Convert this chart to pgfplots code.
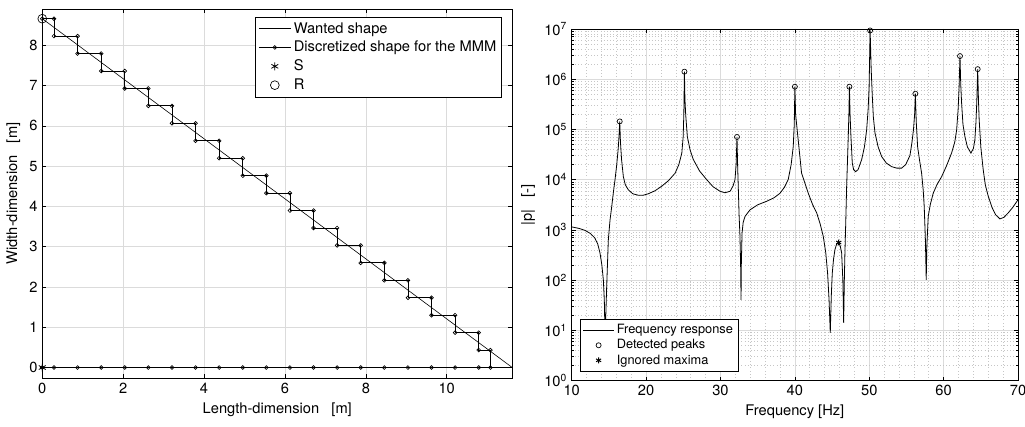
\documentclass[border=0pt]{standalone}
\usepackage{fontspec}
\setmainfont{TeX Gyre Heros}
\usepackage{pgfplots}
\pgfplotsset{compat=1.18}
\usepackage{pgfplotstable}

% frequency response |p|
\pgfplotstableread{
f p
10.00 1150
11.00 1070
11.80 977
12.50 851
13.10 692
13.50 525
13.80 347
14.05 200
14.25 102
14.38 39.8
14.45 12.6
14.50 7.94
14.58 20.0
14.70 75.9
14.92 631
15.15 1585
15.38 2951
15.60 5623
15.82 10000
16.05 19950
16.25 41690
16.37 79430
16.45 144500
16.55 56230
16.70 25120
16.94 11480
17.20 7943
17.60 6310
18.20 5248
18.95 4898
19.60 4898
20.30 5248
21.20 6026
22.10 7413
23.00 9550
23.90 13490
24.40 19950
24.80 33880
24.98 70790
25.07 199500
25.15 1413000
25.22 398100
25.32 199500
25.54 72440
25.90 39810
26.35 25120
27.20 14790
28.15 10000
29.00 7244
29.93 5888
30.60 5495
31.30 5888
31.70 7586
31.95 10000
32.10 19950
32.22 70790
32.30 19950
32.39 7244
32.50 1995
32.62 741
32.72 158
32.76 40.7
32.80 200
32.90 871
33.05 1413
33.30 1862
33.97 2512
35.00 3162
36.20 3715
37.20 4365
38.00 5370
38.60 7079
39.10 10000
39.50 19950
39.78 45710
39.92 125900
40.00 707900
40.10 199500
40.40 72440
40.90 13490
41.80 5370
42.40 3162
42.93 2188
43.40 1318
43.82 741
44.15 355
44.40 138
44.60 39.8
44.76 8.91
44.90 50.1
45.03 138
45.20 263
45.39 407
45.60 513
45.89 562
46.10 479
46.29 347
46.45 100
46.56 14.1
46.65 100
46.73 347
46.85 1585
46.96 7244
47.08 25120
47.18 72440
47.27 223900
47.33 707900
47.42 199500
47.54 72440
47.72 21380
47.90 15850
48.17 14450
48.50 15850
48.98 25120
49.35 44670
49.65 97720
49.85 251200
49.98 707900
50.12 9333000
50.26 1585000
50.40 501200
50.55 177800
50.77 85110
51.20 44670
51.67 28840
52.30 21380
53.00 18200
53.70 16980
54.35 16980
54.90 19950
55.47 30200
55.75 56230
55.95 100000
56.10 199500
56.20 512900
56.32 141300
56.50 45710
56.75 25120
57.04 13490
57.25 6310
57.39 2951
57.55 631
57.66 102
57.75 501
57.93 1862
58.20 3162
58.60 5370
59.10 7943
59.73 11480
60.40 19050
61.07 33880
61.50 56230
61.75 97720
61.95 251200
62.08 707900
62.20 2884000
62.30 794300
62.42 331100
62.60 125900
62.86 72440
63.20 44670
63.67 33880
64.00 41690
64.20 61660
64.35 141300
64.46 354800
64.58 1585000
64.68 398100
64.78 154900
65.00 44670
65.32 15850
65.60 7943
66.00 4677
66.50 2818
67.00 1995
67.57 1660
68.10 1778
68.69 2188
69.30 2818
70.00 3981
}\freqresp

\pgfplotstableread{
f p
16.45 144500
25.15 1413000
32.22 70790
40.00 707900
47.33 707900
50.12 9333000
56.20 512900
62.20 2884000
64.58 1585000
}\peaks

\pgfplotsset{
  matlab/.style={
    scale only axis,
    font=\fontsize{11}{13}\selectfont,
    tick label style={font=\fontsize{11}{13}\selectfont},
    /pgf/number format/assume math mode=true,
    axis line style={black,line width=0.5pt},
    tick align=inside,
    major tick length=3pt,
    minor tick length=1.8pt,
    every tick/.style={black,line width=0.4pt},
    major grid style={gray!28,line width=0.4pt},
    legend cell align=left,
    legend image code/.code={\draw[mark repeat=2,mark phase=2,##1]
      plot coordinates {(0cm,0cm) (0.42cm,0cm) (0.84cm,0cm)};},
    legend style={draw=black,line width=0.5pt,fill=white,
      font=\fontsize{11}{13}\selectfont,inner sep=2pt,row sep=0.5pt},
  },
}

\begin{document}
\begin{tikzpicture}
\path[use as bounding box] (0,0) rectangle (768.75pt,-319.5pt);

\begin{axis}[matlab,
  at={(31.7pt,-283.5pt)},anchor=south west,
  width=352.5pt,height=276.75pt,
  xmin=0,xmax=11.62,ymin=-0.26,ymax=8.9,
  xtick={0,2,...,10},ytick={0,1,...,8},
  xmajorgrids,ymajorgrids,
  xlabel={Length-dimension\ \ \ [m]},
  ylabel={Width-dimension\ \ \ [m]},
  legend style={at={(0.978,0.979)},anchor=north east},
]
\addplot[black,line width=0.45pt] coordinates {(0,0) (11.62,0) (0,8.66) (0,0)};
\addlegendentry{Wanted shape}
\addplot[black,line width=0.6pt,mark=o,mark size=1.4pt,mark options={line width=0.5pt}] coordinates {
(0,8.66) (0.29,8.66) (0.29,8.227) (0.873,8.227) (0.873,7.794) (1.457,7.794)
(1.457,7.361) (2.04,7.361) (2.04,6.928) (2.623,6.928) (2.623,6.495) (3.207,6.495)
(3.207,6.062) (3.79,6.062) (3.79,5.629) (4.373,5.629) (4.373,5.196) (4.957,5.196)
(4.957,4.763) (5.54,4.763) (5.54,4.33) (6.123,4.33) (6.123,3.897) (6.707,3.897)
(6.707,3.464) (7.29,3.464) (7.29,3.031) (7.873,3.031) (7.873,2.598) (8.457,2.598)
(8.457,2.165) (9.04,2.165) (9.04,1.732) (9.623,1.732) (9.623,1.299) (10.207,1.299)
(10.207,0.866) (10.79,0.866) (10.79,0.433) (11.08,0.433) (11.08,0)
(10.79,0) (10.207,0) (9.623,0) (9.04,0) (8.457,0) (7.873,0) (7.29,0) (6.707,0)
(6.123,0) (5.54,0) (4.957,0) (4.373,0) (3.79,0) (3.207,0) (2.623,0) (2.04,0)
(1.457,0) (0.873,0) (0.29,0) (0,0)};
\addlegendentry{Discretized shape for the MMM}
\addplot[only marks,black,mark=asterisk,mark size=3pt,mark options={line width=0.6pt}] coordinates {(0,0)};
\addlegendentry{S}
\addplot[only marks,black,mark=o,mark size=3.3pt,mark options={line width=0.5pt}] coordinates {(0,8.66)};
\addlegendentry{R}
\end{axis}

\begin{axis}[matlab,
  at={(428.8pt,-285.5pt)},anchor=south west,
  width=334.7pt,height=263.8pt,
  ymode=log,
  xmin=10,xmax=70,ymin=1,ymax=1e7,
  xtick={10,20,...,70},
  minor x tick num=4,
  minor x tick style={draw=none},
  yticklabel={10\textsuperscript{\pgfmathparse{int(round(\tick/2.302585))}\pgfmathresult}},
  xmajorgrids,ymajorgrids,xminorgrids,yminorgrids,
  minor grid style={gray!45,dotted,line width=0.4pt},
  xlabel={Frequency [Hz]},
  ylabel={|p|\ \ \ [-]},
  legend image code/.code={\draw[mark repeat=2,mark phase=2,#1]
    plot coordinates {(0cm,0cm) (0.4cm,0cm) (0.8cm,0cm)};},
  legend style={at={(0.0186,0.0256)},anchor=south west,
    font=\fontsize{9.6}{11.5}\selectfont,row sep=-1.2pt},
]
\addplot[black,line width=0.6pt] table[x=f,y=p] {\freqresp};
\addlegendentry{Frequency response}
\addplot[only marks,black,mark=o,mark size=1.9pt,mark options={line width=0.5pt}] table[x=f,y=p] {\peaks};
\addlegendentry{Detected peaks}
\addplot[only marks,black,mark=asterisk,mark size=2.2pt,mark options={line width=0.7pt}] coordinates {(45.89,562)};
\addlegendentry{Ignored maxima}
\end{axis}
\end{tikzpicture}
\end{document}
